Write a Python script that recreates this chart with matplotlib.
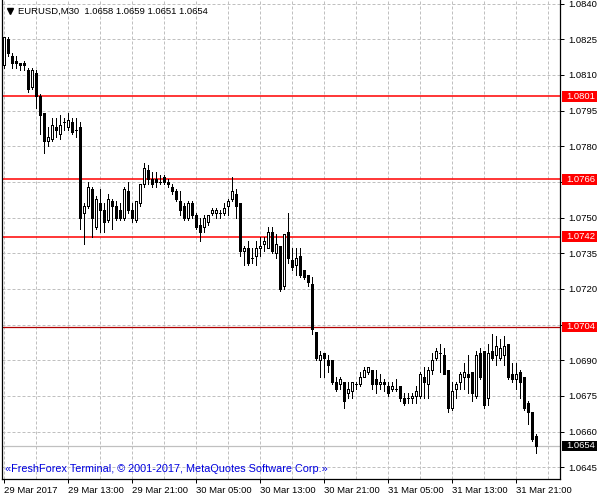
import matplotlib
matplotlib.use("Agg")
import matplotlib.pyplot as plt
from matplotlib.patches import Rectangle

# EURUSD M30 candles, 29 Mar 05:00 .. 31 Mar 22:30
opens = [1.0814, 1.0825, 1.0818, 1.0816, 1.0815, 1.0815, 1.0812, 1.0805, 1.0811, 1.0801,
         1.0794, 1.0782, 1.0783, 1.0788, 1.0785, 1.0790, 1.0788, 1.0790, 1.0787, 1.0788,
         1.0752, 1.0755, 1.0762, 1.0746, 1.0756, 1.0753, 1.0749, 1.0757, 1.0755, 1.0753,
         1.0750, 1.0761, 1.0753, 1.0749, 1.0756, 1.0764, 1.0770, 1.0766, 1.0766, 1.0765,
         1.0767, 1.0765, 1.0763, 1.0761, 1.0757, 1.0755, 1.0750, 1.0756, 1.0751, 1.0747,
         1.0746, 1.0748, 1.0752, 1.0752, 1.0752, 1.0752, 1.0755, 1.0758, 1.0760, 1.0756,
         1.0736, 1.0737, 1.0733, 1.0734, 1.0737, 1.0739, 1.0737, 1.0744, 1.0735, 1.0738,
         1.0721, 1.0744, 1.0732, 1.0730, 1.0734, 1.0728, 1.0726, 1.0722, 1.0702, 1.0690,
         1.0693, 1.0690, 1.0690, 1.0681, 1.0680, 1.0681, 1.0676, 1.0677, 1.0680, 1.0680,
         1.0683, 1.0685, 1.0686, 1.0682, 1.0680, 1.0681, 1.0679, 1.0678, 1.0678, 1.0679,
         1.0674, 1.0674, 1.0674, 1.0675, 1.0675, 1.0683, 1.0680, 1.0686, 1.0691, 1.0693,
         1.0692, 1.0686, 1.0670, 1.0678, 1.0681, 1.0683, 1.0684, 1.0685, 1.0675, 1.0693,
         1.0694, 1.0674, 1.0694, 1.0692, 1.0691, 1.0692, 1.0697, 1.0684, 1.0682, 1.0685,
         1.0683, 1.0672, 1.0668, 1.0658]
highs = [1.0826, 1.0826, 1.0819, 1.0818, 1.0815, 1.0816, 1.0813, 1.0813, 1.0812, 1.0802,
         1.0794, 1.0788, 1.0792, 1.0792, 1.0793, 1.0792, 1.0794, 1.0792, 1.0792, 1.0790,
         1.0756, 1.0765, 1.0763, 1.0759, 1.0762, 1.0756, 1.0760, 1.0758, 1.0757, 1.0756,
         1.0763, 1.0765, 1.0756, 1.0757, 1.0764, 1.0773, 1.0772, 1.0769, 1.0769, 1.0768,
         1.0768, 1.0766, 1.0764, 1.0762, 1.0761, 1.0756, 1.0757, 1.0757, 1.0752, 1.0750,
         1.0751, 1.0751, 1.0754, 1.0754, 1.0753, 1.0756, 1.0758, 1.0767, 1.0762, 1.0756,
         1.0738, 1.0740, 1.0737, 1.0740, 1.0742, 1.0742, 1.0746, 1.0746, 1.0743, 1.0738,
         1.0743, 1.0752, 1.0737, 1.0737, 1.0737, 1.0728, 1.0726, 1.0725, 1.0702, 1.0694,
         1.0693, 1.0692, 1.0690, 1.0683, 1.0683, 1.0681, 1.0681, 1.0681, 1.0681, 1.0685,
         1.0687, 1.0687, 1.0686, 1.0686, 1.0684, 1.0682, 1.0681, 1.0681, 1.0682, 1.0679,
         1.0676, 1.0676, 1.0676, 1.0679, 1.0685, 1.0687, 1.0687, 1.0693, 1.0695, 1.0697,
         1.0695, 1.0686, 1.0681, 1.0681, 1.0685, 1.0689, 1.0692, 1.0685, 1.0694, 1.0695,
         1.0694, 1.0697, 1.0701, 1.0700, 1.0699, 1.0700, 1.0697, 1.0689, 1.0689, 1.0686,
         1.0683, 1.0673, 1.0668, 1.0659]
lows = [1.0813, 1.0818, 1.0813, 1.0813, 1.0812, 1.0812, 1.0803, 1.0804, 1.0796, 1.0785,
        1.0777, 1.0780, 1.0782, 1.0784, 1.0783, 1.0787, 1.0787, 1.0785, 1.0784, 1.0745,
        1.0739, 1.0754, 1.0742, 1.0745, 1.0744, 1.0744, 1.0748, 1.0745, 1.0749, 1.0749,
        1.0749, 1.0752, 1.0748, 1.0748, 1.0755, 1.0763, 1.0764, 1.0763, 1.0763, 1.0764,
        1.0764, 1.0763, 1.0760, 1.0757, 1.0751, 1.0749, 1.0749, 1.0750, 1.0745, 1.0740,
        1.0744, 1.0747, 1.0751, 1.0750, 1.0750, 1.0751, 1.0751, 1.0757, 1.0750, 1.0734,
        1.0730, 1.0730, 1.0731, 1.0730, 1.0734, 1.0736, 1.0737, 1.0735, 1.0733, 1.0719,
        1.0720, 1.0731, 1.0728, 1.0726, 1.0725, 1.0724, 1.0721, 1.0701, 1.0690, 1.0683,
        1.0683, 1.0685, 1.0680, 1.0677, 1.0678, 1.0670, 1.0674, 1.0674, 1.0678, 1.0679,
        1.0683, 1.0684, 1.0678, 1.0676, 1.0678, 1.0677, 1.0675, 1.0677, 1.0677, 1.0673,
        1.0671, 1.0672, 1.0672, 1.0672, 1.0674, 1.0674, 1.0674, 1.0684, 1.0690, 1.0685,
        1.0684, 1.0668, 1.0669, 1.0674, 1.0678, 1.0678, 1.0676, 1.0673, 1.0674, 1.0682,
        1.0670, 1.0671, 1.0690, 1.0688, 1.0690, 1.0688, 1.0682, 1.0681, 1.0678, 1.0674,
        1.0669, 1.0663, 1.0656, 1.0651]
closes = [1.0826, 1.0819, 1.0815, 1.0815, 1.0814, 1.0814, 1.0804, 1.0812, 1.0801, 1.0793,
          1.0782, 1.0784, 1.0789, 1.0787, 1.0789, 1.0790, 1.0791, 1.0786, 1.0787, 1.0750,
          1.0755, 1.0763, 1.0750, 1.0758, 1.0753, 1.0748, 1.0758, 1.0755, 1.0750, 1.0750,
          1.0762, 1.0753, 1.0750, 1.0757, 1.0764, 1.0771, 1.0766, 1.0764, 1.0765, 1.0765,
          1.0765, 1.0764, 1.0761, 1.0758, 1.0753, 1.0750, 1.0756, 1.0751, 1.0746, 1.0744,
          1.0750, 1.0751, 1.0753, 1.0753, 1.0752, 1.0754, 1.0757, 1.0761, 1.0755, 1.0736,
          1.0737, 1.0731, 1.0733, 1.0737, 1.0738, 1.0740, 1.0744, 1.0736, 1.0739, 1.0720,
          1.0743, 1.0733, 1.0729, 1.0733, 1.0726, 1.0725, 1.0723, 1.0703, 1.0691, 1.0692,
          1.0691, 1.0688, 1.0681, 1.0678, 1.0682, 1.0673, 1.0678, 1.0681, 1.0680, 1.0683,
          1.0686, 1.0687, 1.0680, 1.0680, 1.0681, 1.0680, 1.0676, 1.0679, 1.0678, 1.0674,
          1.0672, 1.0674, 1.0675, 1.0677, 1.0684, 1.0681, 1.0686, 1.0690, 1.0694, 1.0693,
          1.0684, 1.0670, 1.0677, 1.0680, 1.0684, 1.0685, 1.0683, 1.0676, 1.0692, 1.0683,
          1.0671, 1.0693, 1.0691, 1.0696, 1.0695, 1.0696, 1.0683, 1.0682, 1.0684, 1.0681,
          1.0670, 1.0668, 1.0657, 1.0654]

time_labels = ["29 Mar 2017", "29 Mar 13:00", "29 Mar 21:00", "30 Mar 05:00", "30 Mar 13:00",
               "30 Mar 21:00", "31 Mar 05:00", "31 Mar 13:00", "31 Mar 21:00"]
price_ticks = [1.0645, 1.0660, 1.0675, 1.0690, 1.0705, 1.0720, 1.0735, 1.0750,
               1.0765, 1.0780, 1.0795, 1.0810, 1.0825, 1.0840]
red_levels = [1.0801, 1.0766, 1.0742]
dark_level = 1.0704
bid = 1.0654

FONT = "Liberation Sans"
FS = 6.8
PX = 0.72  # one pixel in points at 100 dpi

fig = plt.figure(figsize=(6, 5), dpi=100)
ax = fig.add_axes([2 / 600, 1 - 479.3 / 500, 558.3 / 600, 479.3 / 500])

n = len(opens)
xs = list(range(n))

# wicks
ax.vlines(xs, lows, highs, color="black", linewidth=PX, antialiased=False, zorder=3)

# bodies: 3 px wide, hollow for up candles
bottoms = [min(o, c) for o, c in zip(opens, closes)]
heights = [abs(c - o) for o, c in zip(opens, closes)]
faces = ["white" if c > o else "black" for o, c in zip(opens, closes)]
ax.bar(xs, heights, width=0.5, bottom=bottoms, color=faces, edgecolor="black",
       linewidth=PX, antialiased=False, zorder=4)

# level lines
for lv in red_levels:
    ax.axhline(lv, color="#ff0000", linewidth=1.1, zorder=2)
ax.axhline(dark_level, color="#b00000", linewidth=0.9, zorder=2)
ax.axhline(bid, color="#c0c0c0", linewidth=0.9, zorder=2)

ax.set_xlim(-0.425, 139.15)
ax.set_ylim(1.06399, 1.08415)

# axes / grid
ax.set_xticks(range(0, n, 16))
ax.set_xticklabels(time_labels, fontname=FONT, fontsize=FS, ha="left")
ax.set_xticks(range(0, n + 6, 8), minor=True)
covered = [round(v, 4) for v in red_levels + [dark_level]]
ylabels = []
for p in price_ticks:
    near = any(abs(p - c) < 0.00025 for c in covered)
    ylabels.append("" if near else "%.4f" % p)
ax.set_yticks(price_ticks)
ax.set_yticklabels(ylabels, fontname=FONT, fontsize=FS)
ax.yaxis.tick_right()
ax.tick_params(axis="y", direction="out", length=3, width=PX, pad=3)
ax.tick_params(axis="x", which="major", direction="out", length=3, width=PX, pad=1.5)
ax.tick_params(axis="x", which="minor", length=0)
ax.grid(True, which="both", axis="x", color="#c0c0c0", linestyle=(0, (3, 2)), linewidth=PX)
ax.grid(True, which="major", axis="y", color="#c0c0c0", linestyle=(0, (3, 2)), linewidth=PX)
ax.set_axisbelow(True)

for side in ["left", "bottom", "right"]:
    ax.spines[side].set_linewidth(0.9)
    ax.spines[side].set_color("black")
ax.spines["top"].set_visible(False)

# price labels for the horizontal lines
ytr = ax.get_yaxis_transform()
box_h = 10.5 / 23778
for lv, fc in [(r, "#ff0000") for r in red_levels] + [(dark_level, "#ff0000"), (bid, "black")]:
    ax.add_patch(Rectangle((1.0025, lv - box_h / 2), 0.064, box_h, transform=ytr,
                           facecolor=fc, edgecolor="none", clip_on=False, zorder=10))
    ax.text(1.0105, lv, "%.4f" % lv, transform=ytr, color="white", fontname=FONT,
            fontsize=FS, va="center", ha="left", clip_on=False, zorder=11)

# header and copyright
ax.plot([0.0143], [0.977], marker="v", color="black", markersize=4, transform=ax.transAxes,
        clip_on=False)
ax.text(0.029, 0.977, "EURUSD,M30  1.0658 1.0659 1.0651 1.0654", transform=ax.transAxes,
        fontname=FONT, fontsize=FS, va="center", ha="left")
ax.text(0.005, 0.0215, "\u00abFreshForex Terminal, \u00a9 2001-2017, MetaQuotes Software Corp.\u00bb",
        transform=ax.transAxes, color="#0000e0", fontname=FONT, fontsize=7.8,
        va="center", ha="left")

fig.savefig("out.png", dpi=100)
